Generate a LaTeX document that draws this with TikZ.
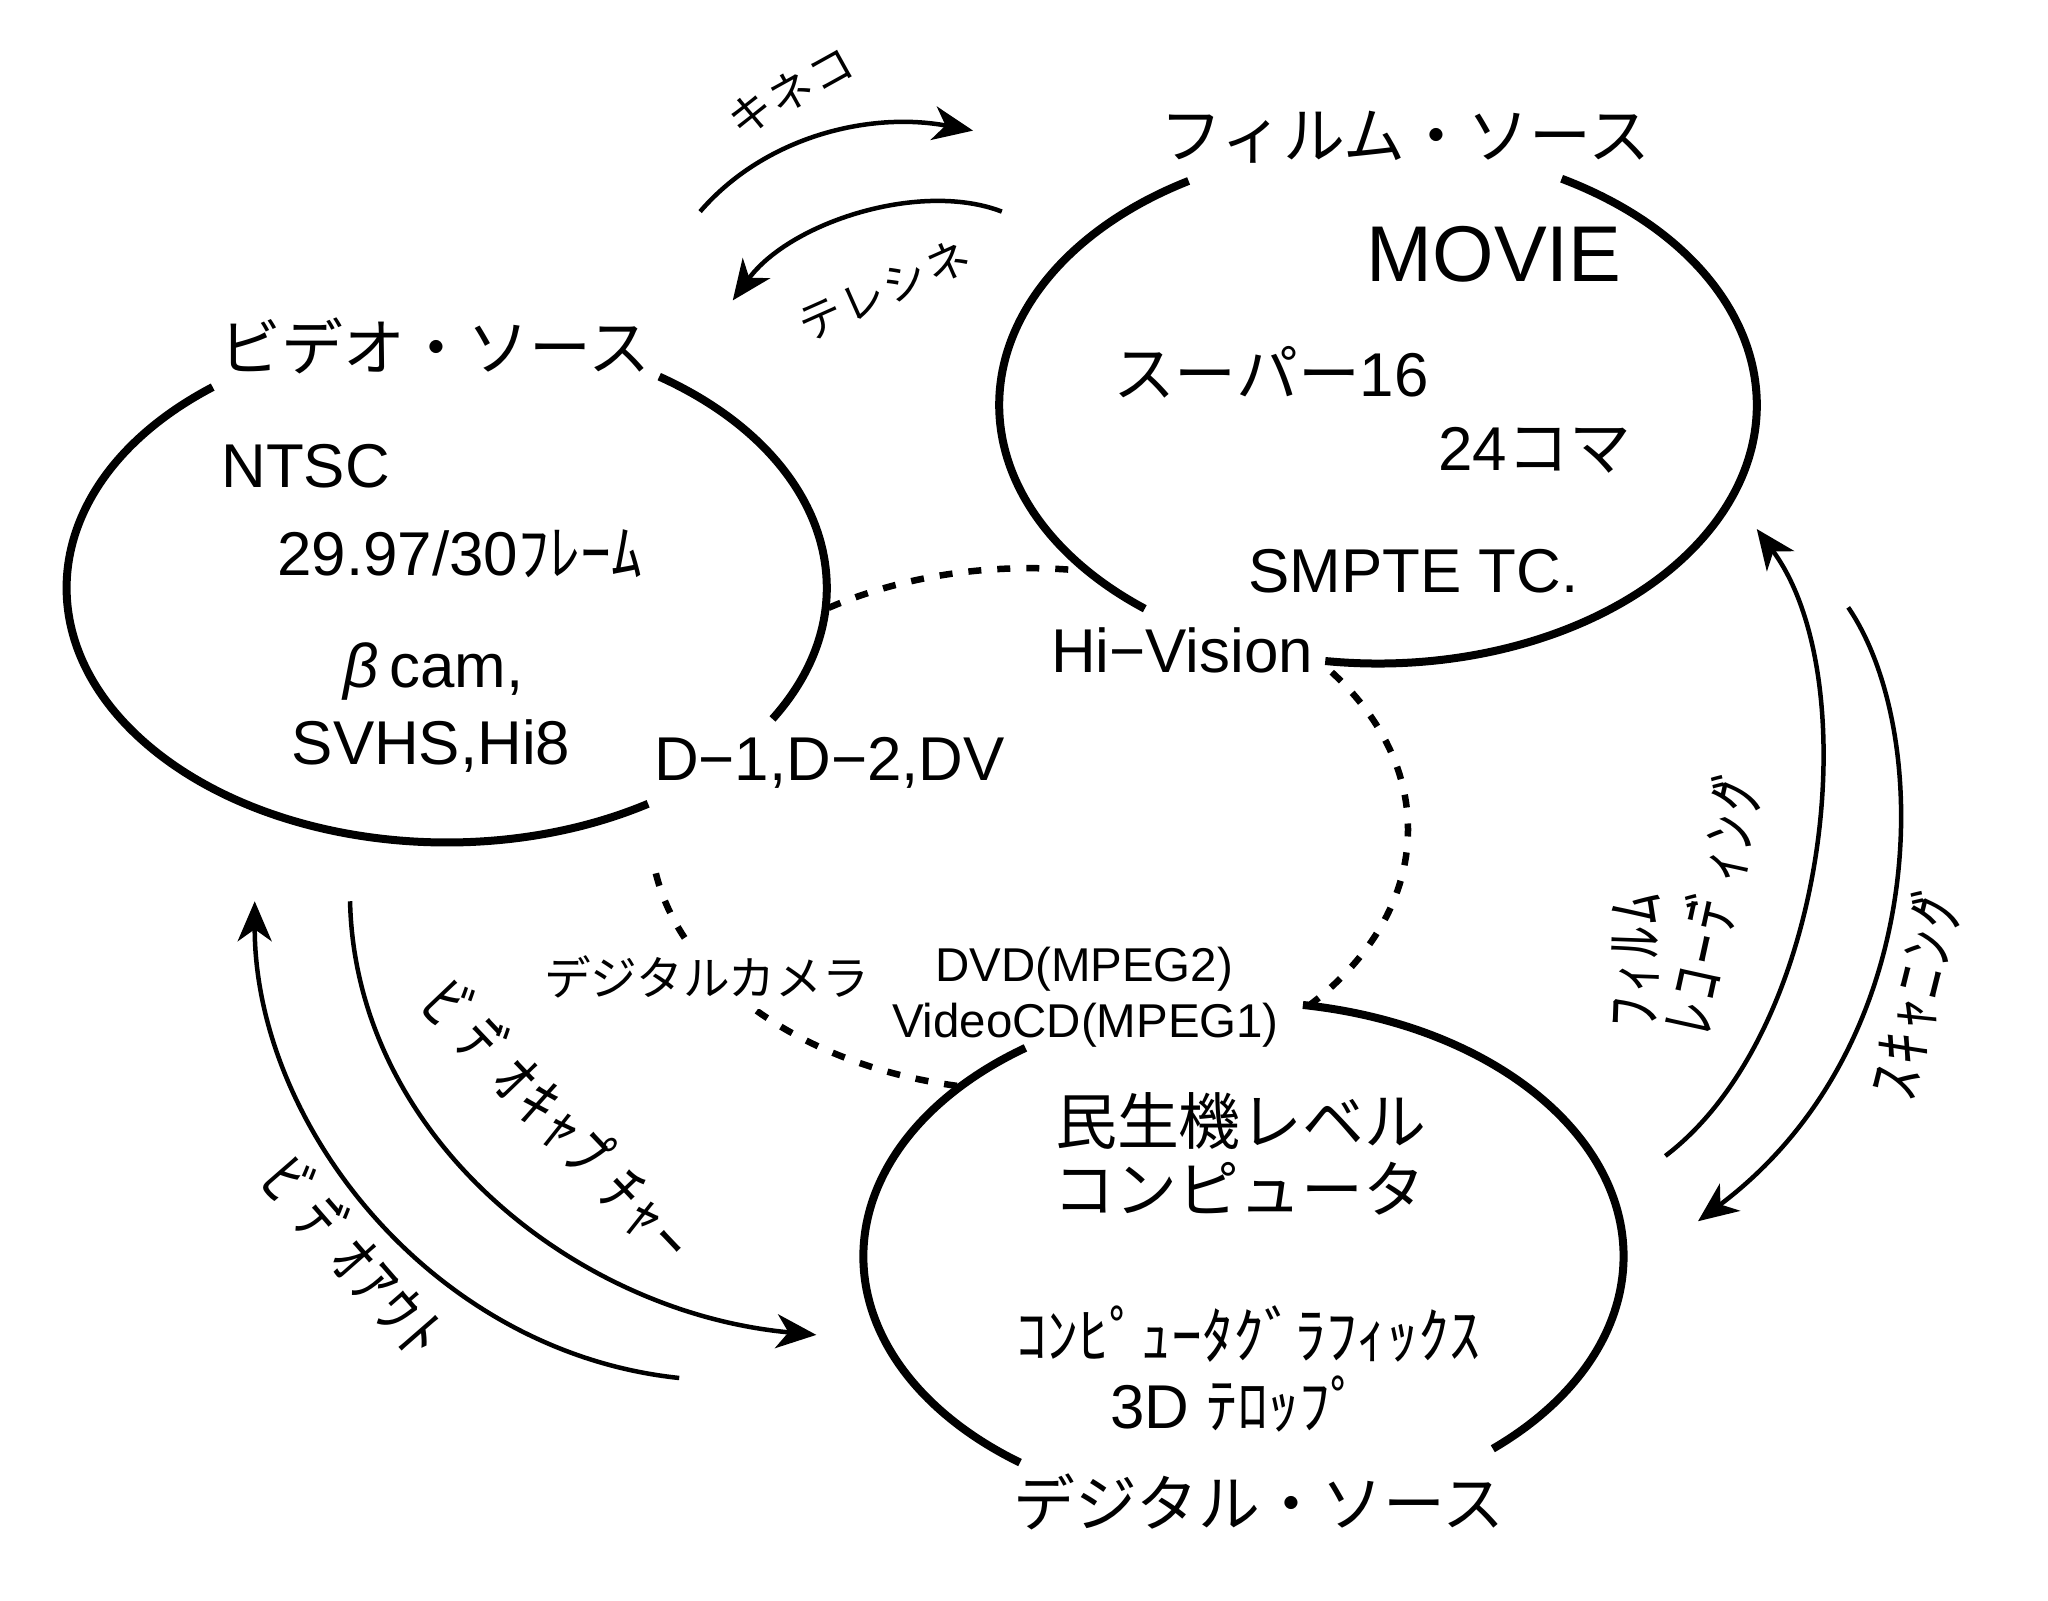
\documentclass[tikz,border=0pt]{standalone}
\usepackage{fontspec}
\setmainfont{Liberation Sans}
\newfontfamily\jp{Noto Sans CJK JP}
\newfontfamily\jpA[LetterSpace=5]{Noto Sans CJK JP}
\newfontfamily\jpB[LetterSpace=6]{Noto Sans CJK JP}
\newcommand\dkt{\kern-0.22em ﾞ}
\newcommand\hdkt{\kern-0.22em ﾟ}
\usetikzlibrary{arrows.meta}
\begin{document}
\begin{tikzpicture}[x=0.1306mm,y=-0.1306mm,
  ring/.style={line width=0.8mm},
  dotring/.style={line width=0.65mm, dash pattern=on 1.3mm off 1.6mm},
  flow/.style={line width=0.45mm, -{Stealth[length=4mm,width=3.4mm,inset=1.2mm]}},
  tl/.style={inner sep=0, font=\fontsize{17.6}{20}\selectfont},
  tj/.style={inner sep=0, font=\jp\fontsize{17.6}{20}\selectfont},
  tm/.style={inner sep=0, font=\fontsize{13.5}{16}\selectfont},
  tmj/.style={inner sep=0, font=\jp\fontsize{13.3}{16}\selectfont},
  tsa/.style={inner sep=0, font=\jpA\fontsize{12.5}{15}\selectfont},
  tsb/.style={inner sep=0, font=\jpB\fontsize{17.6}{20}\selectfont},
]
\useasboundingbox (0,0) rectangle (1568,1225);

% ---- source ellipses (drawn as arcs with gaps) ----
\coordinate (vc) at (342,450);
\coordinate (fc) at (1055,310);
\coordinate (dc) at (952,962);
\coordinate (mc) at (788,635);
\draw[ring] (vc) ++(232:291 and 195) arc (232:58:291 and 195);
\draw[ring] (vc) ++(-56:291 and 195) arc (-56:31:291 and 195);
\draw[ring] (fc) ++(240:290 and 198) arc (240:128:290 and 198);
\draw[ring] (fc) ++(-61:290 and 198) arc (-61:98:290 and 198);
\draw[ring] (dc) ++(235:291 and 195) arc (235:126:291 and 195);
\draw[ring] (dc) ++(-81:291 and 195) arc (-81:49:291 and 195);

% ---- dotted middle ellipse ----
\draw[dotring] (mc) ++(238:290 and 200) arc (238:276:290 and 200);
\draw[dotring] (mc) ++(-37:290 and 200) arc (-37:42:290 and 200);
\draw[dotring] (mc) ++(101:290 and 200) arc (101:171:290 and 200);

% ---- texts ----
\node[tj] (tVideo) at (333,265) {ビデオ・ソース};
\node[tl] (tNTSC) at (234,357) {NTSC};
\node[tl] (tFrame) at (352,424) {29.97/30{\jp ﾌﾚｰﾑ}};
\node[tl] (tBcam) at (332,514) {\textit{β}\,cam,};
\node[tl] (tSVHS) at (330,571) {SVHS,Hi8};
\node[tl] (tD1) at (635,584) {D−1,D−2,DV};

\node[tj] (tFilm) at (1076,105) {フィルム・ソース};
\node[inner sep=0, font=\fontsize{22.5}{26}\selectfont] (tMovie) at (1144,195) {MOVIE};
\node[tl] (tSuper) at (973,285) {{\jp スーパー}16};
\node[tl] (t24) at (1175,345) {24{\jp コマ}};
\node[tl] (tSMPTE) at (1082,437) {SMPTE TC.};
\node[tl] (tHi) at (905,498) {Hi−Vision};

\node[tmj, fill=white, inner sep=3pt] (tCam) at (541,748) {デジタルカメラ};
\node[tm] (tDVD) at (830,742) {DVD(MPEG2)};
\node[tm] (tVCD) at (831,785) {VideoCD(MPEG1)};

\node[tj] (tMin) at (950,858) {民生機レベル};
\node[tj] (tComp) at (949,910) {コンピュータ};
\node[tj] (tCG) at (956,1021) {ｺﾝﾋﾟｭｰﾀｸﾞﾗﾌｨｯｸｽ};
\node[tl] (t3D) at (946,1075) {3D {\jp ﾃﾛｯﾌﾟ}};
\node[tj] (tDig) at (964,1150) {デジタル・ソース};

% ---- transfer arrows ----
\coordinate (k1) at (536,162);  \coordinate (k2) at (745,100);
\coordinate (t1) at (767,162);  \coordinate (t2) at (561,230);
\coordinate (c1) at (268,690);  \coordinate (c2) at (625,1022);
\coordinate (o1) at (520,1055); \coordinate (o2) at (195,690);
\coordinate (r1) at (1275,885); \coordinate (r2) at (1345,405);
\coordinate (s1) at (1415,465); \coordinate (s2) at (1300,935);

\draw[flow] (k1) .. controls (585,105) and (665,85) .. (k2);
\draw[flow] (t1) .. controls (705,138) and (605,170) .. (t2);
\draw[flow] (c1) .. controls (272,870) and (440,1005) .. (c2);
\draw[flow] (o1) .. controls (330,1035) and (195,860) .. (o2);
\draw[flow] (r1) .. controls (1400,790) and (1430,520) .. (r2);
\draw[flow] (s1) .. controls (1480,560) and (1480,800) .. (s2);

\node[tsa, rotate=29] (lKin) at (605,70) {キネコ};
\node[tsa, rotate=24] (lTel) at (677,222) {テレシネ};
\node[tsb, rotate=-46.5] (lCap) at (428,858) {ﾋ\dkt ﾃ\dkt ｵｷｬﾌ\hdkt ﾁｬｰ};
\node[tsb, rotate=-49] (lOut) at (272,962) {ﾋ\dkt ﾃ\dkt ｵｱｳﾄ};
\node[tsb, rotate=88] (lRec1) at (1252,735) {ﾌｨﾙﾑ};
\node[tsb, rotate=77.6] (lRec2) at (1312,688) {ﾚｺｰﾃ\dkt ｨﾝｸ\dkt};
\node[tsb, rotate=76] (lScan) at (1467,757) {ｽｷｬﾆﾝｸ\dkt};
\end{tikzpicture}
\end{document}
